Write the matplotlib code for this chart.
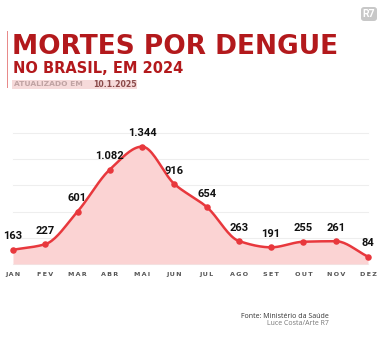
import numpy as np
import matplotlib
matplotlib.use("Agg")
import matplotlib.pyplot as plt
from matplotlib.patches import FancyBboxPatch, Rectangle

# data
meses = ["JAN", "FEV", "MAR", "ABR", "MAI", "JUN", "JUL", "AGO", "SET", "OUT", "NOV", "DEZ"]
mortes = [163, 227, 601, 1082, 1344, 916, 654, 263, 191, 255, 261, 84]
rotulos = ["163", "227", "601", "1.082", "1.344", "916", "654", "263", "191", "255", "261", "84"]
grade = [0, 300, 600, 900, 1200, 1500]

RED = "#e8383d"
FILL = "#fbd3d3"
DARKRED = "#b3191c"


def suave(x, y, n=20):
    # cubic hermite (monotone-ish) so the curve looks like the original
    x = np.asarray(x, float)
    y = np.asarray(y, float)
    d = np.diff(y) / np.diff(x)
    m = np.zeros_like(y)
    m[0], m[-1] = d[0], d[-1]
    for i in range(1, len(y) - 1):
        if d[i - 1] * d[i] <= 0:
            m[i] = 0
        else:
            m[i] = 2 / (1 / d[i - 1] + 1 / d[i])
    xs, ys = [], []
    for i in range(len(x) - 1):
        t = np.linspace(0, 1, n, endpoint=False)
        h = x[i + 1] - x[i]
        h00 = 2 * t**3 - 3 * t**2 + 1
        h10 = t**3 - 2 * t**2 + t
        h01 = -2 * t**3 + 3 * t**2
        h11 = t**3 - t**2
        xs.append(x[i] + t * h)
        ys.append(h00 * y[i] + h10 * h * m[i] + h01 * y[i + 1] + h11 * h * m[i + 1])
    xs.append([x[-1]])
    ys.append([y[-1]])
    return np.concatenate(xs), np.concatenate(ys)


fig = plt.figure(figsize=(3.84, 3.5), dpi=100)
fig.patch.set_facecolor("white")

W, H = 384, 350
ax = fig.add_axes([13 / W, 1 - 264 / H, (368 - 13) / W, (264 - 133) / H])
x = np.arange(len(meses))
xs, ys = suave(x, mortes)

for g in grade:
    ax.axhline(g, color="#eeeeee", lw=0.8, zorder=0, clip_on=False)
ax.fill_between(xs, ys, 0, color=FILL, lw=0, zorder=1)
ax.plot(xs, ys, color=RED, lw=1.8, zorder=2, clip_on=False, solid_capstyle="round")
ax.scatter(x, mortes, s=22, color=RED, zorder=3, clip_on=False, linewidths=0)

for xi, v, r in zip(x, mortes, rotulos):
    ax.annotate(r, (xi, v), xytext=(0, 6), textcoords="offset points",
                ha="center", va="bottom", fontsize=8, fontweight="bold",
                family="Roboto", color="#111111", clip_on=False)

ax.set_xlim(0, 11)
ax.set_ylim(0, 1500)
ax.set_xticks(x)
ax.set_xticklabels(["\u2009".join(list(m)) for m in meses], fontsize=4.6, fontweight="bold",
                   family="DejaVu Sans", color="#555555")
ax.tick_params(axis="x", length=0, pad=6)
ax.set_yticks([])
for s in ax.spines.values():
    s.set_visible(False)
ax.set_facecolor("none")

# cabecalho
fig.add_artist(Rectangle((6.5 / W, 1 - 88 / H), 1.2 / W, 57 / H, color="#e88a8a", lw=0))
fig.text(12 / W, 1 - 47 / H, "MORTES POR DENGUE", fontsize=19.0, fontweight="bold",
         family="DejaVu Sans", color=DARKRED, va="center", ha="left")
fig.text(13 / W, 1 - 68.5 / H, "NO BRASIL, EM 2024", fontsize=10.5, fontweight="bold",
         family="DejaVu Sans", color=DARKRED, va="center", ha="left")
fig.add_artist(Rectangle((12 / W, 1 - 89 / H), 125 / W, 9 / H, color="#f6dada", lw=0))
fig.text(14 / W, 1 - 84.5 / H, "ATUALIZADO EM", fontsize=5.4, fontweight="bold",
         family="DejaVu Sans", color="#c0a3a3", va="center", ha="left")
fig.text(93 / W, 1 - 84.5 / H, "10.1.2025", fontsize=5.6, fontweight="bold",
         family="DejaVu Sans", color="#8a4a4a", va="center", ha="left")

# logo R7
fig.add_artist(FancyBboxPatch((361 / W, 1 - 21 / H), 16 / W, 14 / H,
                              boxstyle="round,pad=0,rounding_size=0.008",
                              color="#c8c8c8", lw=0))
fig.text(369 / W, 1 - 14 / H, "R7", fontsize=7.5, fontweight="bold", family="Roboto",
         color="white", ha="center", va="center")

# fonte
fig.text(329 / W, 1 - 316 / H, "Fonte: Ministério da Saúde", fontsize=5, family="Open Sans",
         color="#333333", ha="right", va="center")
fig.text(329 / W, 1 - 323.5 / H, "Luce Costa/Arte R7", fontsize=5, family="Open Sans",
         color="#777777", ha="right", va="center")

fig.savefig("out.png", dpi=100)
